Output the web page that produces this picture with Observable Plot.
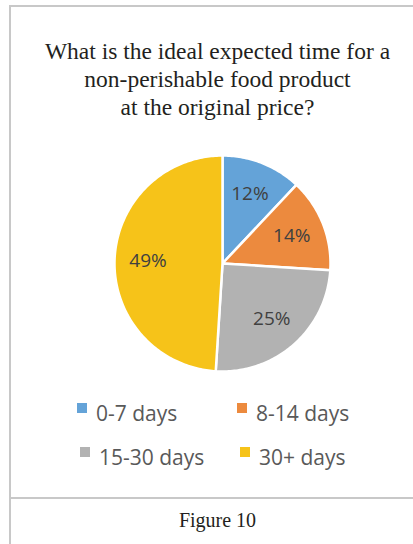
<!DOCTYPE html>
<html>
<head>
<meta charset="utf-8">
<script src="https://cdn.jsdelivr.net/npm/d3@7"></script>
<script src="https://cdn.jsdelivr.net/npm/@observablehq/plot@0.6"></script>
<style>
  html, body { margin: 0; padding: 0; background: #fff; }
  #page { position: relative; width: 413px; height: 544px; overflow: hidden; }
  .rule { position: absolute; background: #c8c8c8; }
  #title { position: absolute; left: 20px; width: 395px; top: 37px; text-align: center;
           font-family: "Liberation Serif", "Times New Roman", serif; font-size: 23.5px;
           line-height: 28px; color: #231f20; }
  #caption { position: absolute; left: 20px; width: 395px; top: 508px; text-align: center;
             font-family: "Liberation Serif", "Times New Roman", serif; font-size: 20px;
             line-height: 24px; color: #231f20; }
  #chart { position: absolute; left: 0; top: 145px; }
  .leg { position: absolute; display: flex; align-items: flex-start; white-space: nowrap;
         font-family: "Open Sans", sans-serif; font-size: 21px; line-height: 30px; color: #595959; }
  .leg .sw { width: 10px; height: 10px; margin-top: 5px; margin-right: 9px; }
</style>
</head>
<body>
<div id="page">
  <div class="rule" style="left:9px; top:5px; width:2px; height:539px;"></div>
  <div class="rule" style="left:9px; top:5px; width:404px; height:2px;"></div>
  <div class="rule" style="left:9px; top:497px; width:404px; height:2px;"></div>
  <div id="title"></div>
  <div id="chart"></div>
  <div id="legend"></div>
  <div id="caption"></div>
</div>
<script>
const titleLines = ["What is the ideal expected time for a", "non-perishable food product", "at the original price?"];
const caption = "Figure 10";
const categories = ["0-7 days", "8-14 days", "15-30 days", "30+ days"];
const values = [12, 14, 25, 49];
const labels = ["12%", "14%", "25%", "49%"];
const colors = ["#64A3D8", "#EC8A3E", "#B2B2B2", "#F6C319"];

document.getElementById("title").innerHTML = titleLines.join("<br>");
document.getElementById("caption").textContent = caption;

// pie geometry from data
const arcs = d3.pie().sort(null).value(d => d.value)(categories.map((c, i) => ({key: c, value: values[i], label: labels[i]})));
const pts = [];
for (const a of arcs) {
  pts.push({key: a.data.key, x: 0, y: 0});
  const n = Math.max(2, Math.ceil((a.endAngle - a.startAngle) / (Math.PI / 180)));
  for (let k = 0; k <= n; k++) {
    const t = a.startAngle + (a.endAngle - a.startAngle) * k / n;
    pts.push({key: a.data.key, x: Math.sin(t), y: Math.cos(t)});
  }
  pts.push({key: a.data.key, x: 0, y: 0});
}
const lab = arcs.map(a => {
  const m = (a.startAngle + a.endAngle) / 2;
  return {text: a.data.label, x: 0.69 * Math.sin(m), y: 0.69 * Math.cos(m)};
});

const chart = Plot.plot({
  width: 413, height: 235,
  x: {domain: [-1, 1], range: [114, 330], axis: null},
  y: {domain: [-1, 1], range: [226, 10], axis: null},
  color: {domain: categories, range: colors},
  marks: [
    Plot.line(pts, {x: "x", y: "y", z: "key", fill: "key", stroke: "white", strokeWidth: 2.5, strokeLinejoin: "round", curve: "linear"}),
    Plot.text(lab, {x: "x", y: "y", text: "text", fontSize: 19, fill: "#404040", fontFamily: "Open Sans"})
  ]
});
chart.style.fontFamily = "Open Sans";
document.getElementById("chart").appendChild(chart);

// legend
const legPos = [[77, 398], [237, 398], [80, 442], [240, 442]];
const legend = document.getElementById("legend");
categories.forEach((c, i) => {
  const d = document.createElement("div");
  d.className = "leg";
  d.style.left = legPos[i][0] + "px";
  d.style.top = legPos[i][1] + "px";
  const sw = document.createElement("span");
  sw.className = "sw";
  sw.style.background = colors[i];
  const tx = document.createElement("span");
  tx.textContent = c;
  d.appendChild(sw); d.appendChild(tx);
  legend.appendChild(d);
});
</script>
</body>
</html>
